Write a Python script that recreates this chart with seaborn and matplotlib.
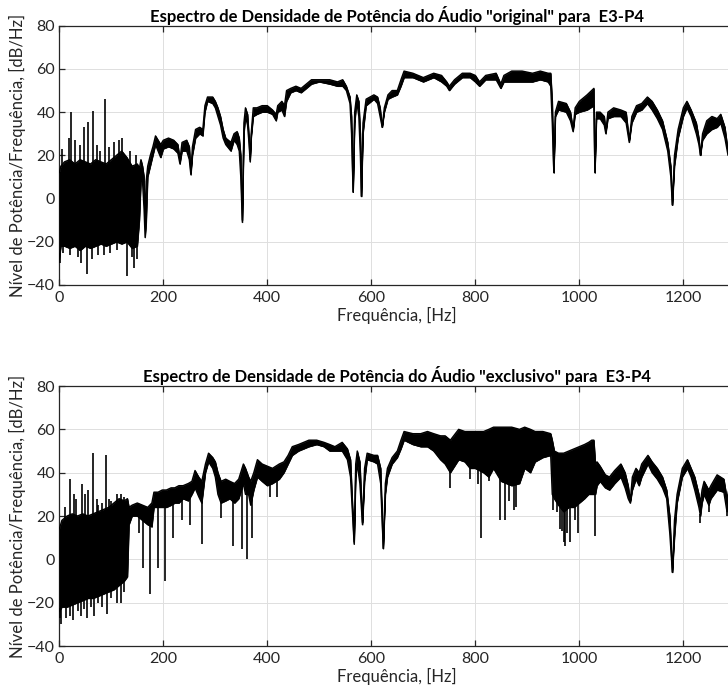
import matplotlib
matplotlib.use("Agg")
import matplotlib.pyplot as plt
import numpy as np
import pandas as pd
import seaborn as sns

# ---- "original" audio: PSD trace envelope (upper / lower edge), dB/Hz ----
freq_orig = [0, 3, 10, 20, 30, 40, 50, 60, 70, 80,
             90, 100, 110, 120, 130, 140, 150, 154, 157, 160,
             163, 165, 167, 170, 175, 180, 185, 190, 195, 200,
             210, 220, 228, 232, 236, 245, 250, 253, 256, 262,
             270, 276, 280, 285, 295, 300, 305, 310, 315, 320,
             330, 336, 342, 346, 349, 352, 355, 358, 362, 365,
             367, 369, 373, 380, 390, 400, 410, 417, 420, 428,
             433, 437, 445, 455, 465, 475, 485, 500, 520, 535,
             545, 552, 559, 562, 565, 568, 572, 576, 579, 581,
             584, 590, 605, 612, 617, 621, 625, 632, 640, 650,
             657, 663, 680, 700, 720, 735, 745, 750, 760, 775,
             790, 800, 808, 820, 840, 849, 855, 870, 890, 910,
             925, 940, 945, 948, 951, 954, 960, 975, 983, 988,
             992, 1000, 1015, 1028, 1030, 1033, 1040, 1048, 1051, 1055,
             1066, 1080, 1090, 1096, 1101, 1110, 1120, 1131, 1140, 1150,
             1160, 1170, 1176, 1179, 1183, 1190, 1200, 1207, 1215, 1225,
             1230, 1233, 1237, 1245, 1255, 1265, 1272, 1280, 1286, 1292,
             1300]
upper_orig = [12, 15, 17, 18, 16, 18, 17, 16, 18, 17,
              16, 18, 20, 22, 19, 15, 16, 14, 18, 15,
              10, -12, 8, 15, 20, 24, 29, 27, 25, 27,
              28, 27, 25, 18, 26, 27, 24, 12, 24, 32,
              33, 32, 43, 47, 47, 45, 42, 38, 32, 28,
              26, 30, 31, 28, 20, -10, 35, 42, 39, 28,
              18, 30, 42, 42, 43, 43, 41, 39, 43, 45,
              43, 50, 51, 52, 51, 53, 55, 55, 55, 54,
              55, 52, 47, 38, 3, 40, 48, 45, 30, 1,
              35, 46, 48, 47, 42, 33, 42, 48, 50, 50,
              55, 59, 58, 56, 58, 57, 54, 52, 55, 58,
              58, 57, 54, 57, 58, 53, 57, 59, 59, 58,
              59, 58, 58, 45, 12, 40, 45, 44, 40, 32,
              42, 45, 48, 51, 12, 40, 40, 38, 31, 40,
              42, 41, 40, 27, 38, 43, 44, 47, 45, 41,
              36, 26, 15, -3, 20, 32, 42, 45, 41, 35,
              28, 20, 30, 36, 38, 37, 39, 33, 22, 30,
              28]
lower_orig = [-28, -22, -22, -23, -22, -24, -22, -23, -22, -21,
              -22, -21, -20, -21, -20, -23, -22, -10, 8, 8,
              -5, -18, -12, 10, 15, 20, 25, 22, 19, 23,
              24, 23, 21, 16, 22, 22, 18, 11, 20, 28,
              30, 29, 40, 45, 44, 42, 38, 34, 28, 25,
              22, 27, 25, 22, 10, -11, 30, 38, 34, 25,
              17, 28, 38, 39, 40, 40, 39, 36, 40, 41,
              38, 45, 49, 50, 49, 51, 53, 54, 53, 52,
              52, 50, 44, 30, 3, 35, 45, 38, 20, 1,
              30, 43, 46, 44, 38, 33, 40, 46, 47, 48,
              52, 56, 56, 54, 56, 54, 52, 50, 53, 56,
              56, 54, 52, 55, 55, 51, 54, 54, 54, 54,
              55, 54, 52, 35, 12, 38, 41, 40, 36, 31,
              39, 40, 41, 43, 12, 37, 37, 34, 30, 37,
              38, 38, 35, 26, 35, 40, 41, 44, 41, 37,
              32, 22, 10, -3, 15, 28, 38, 42, 38, 30,
              25, 20, 27, 30, 32, 33, 35, 28, 20, 26,
              24]
# isolated narrow peaks / notches sticking out of the trace
peak_f_orig = [5, 19, 22.5, 30, 40, 47.5, 56, 65, 72, 78, 88.7, 95, 105, 115, 120, 135, 147]
peak_v_orig = [23, 28, 40, 27, 25, 33, 35.6, 40.7, 25, 22, 46, 24, 26, 27, 28, 22, 20]
notch_f_orig = [1, 8, 20, 35, 42, 54, 62, 75, 85, 98, 110, 130, 140, 144, 150]
notch_v_orig = [-30, -25, -26, -27, -30, -35, -28, -26, -26, -25, -24, -36, -27, -32, -28]

# ---- "exclusivo" audio ----
freq_excl = [0, 5, 15, 25, 35, 45, 55, 65, 75, 85,
             95, 105, 115, 125, 131, 134, 140, 150, 160, 170,
             178, 182, 190, 198, 206, 215, 222, 230, 238, 248,
             255, 261, 268, 274, 281, 287, 295, 300, 305, 311,
             320, 328, 337, 345, 354, 358, 364, 368, 374, 381,
             390, 400, 410, 423, 432, 440, 448, 460, 480, 495,
             509, 520, 530, 544, 554, 560, 567, 570, 573, 578,
             583, 587, 592, 605, 612, 618, 623, 627, 631, 640,
             650, 657, 663, 680, 695, 708, 720, 733, 742, 752,
             768, 780, 790, 800, 816, 826, 835, 850, 870, 885,
             895, 906, 915, 930, 945, 948, 952, 960, 970, 980,
             990, 1000, 1010, 1018, 1024, 1028, 1031, 1034, 1040, 1050,
             1058, 1068, 1080, 1088, 1094, 1098, 1102, 1109, 1115, 1120,
             1132, 1140, 1150, 1160, 1168, 1174, 1179, 1183, 1188, 1198,
             1208, 1215, 1222, 1230, 1233, 1236, 1240, 1249, 1253, 1265,
             1278, 1284, 1290, 1300]
upper_excl = [14, 18, 20, 21, 20, 21, 20, 21, 22, 23,
              24, 26, 28, 27, 28, 24, 25, 26, 25, 24,
              26, 31, 31, 32, 32, 33, 33, 34, 34, 35,
              36, 41, 38, 36, 44, 49, 47, 45, 40, 36,
              37, 36, 35, 37, 44, 42, 38, 36, 40, 46,
              44, 43, 42, 44, 45, 48, 52, 53, 55, 55,
              54, 53, 52, 54, 51, 46, 8, 44, 50, 45,
              17, 42, 49, 48, 48, 42, 5, 35, 42, 47,
              50, 55, 59, 58, 58, 59, 58, 57, 57, 55,
              60, 59, 59, 59, 59, 60, 61, 61, 61, 60,
              61, 60, 59, 59, 58, 55, 50, 49, 49, 50,
              51, 52, 53, 54, 55, 55, 44, 45, 43, 39,
              38, 41, 44, 40, 34, 27, 38, 42, 40, 44,
              48, 45, 42, 38, 32, 20, -6, 18, 30, 42,
              46, 42, 38, 30, 26, 32, 36, 32, 34, 39,
              37, 28, 35, 33]
lower_excl = [-24, -22, -22, -21, -20, -19, -18, -18, -17, -16,
              -15, -14, -12, -10, -8, 16, 20, 20, 18, 16,
              15, 24, 24, 24, 24, 25, 26, 26, 28, 27,
              30, 33, 29, 26, 40, 45, 42, 38, 30, 26,
              27, 28, 26, 28, 35, 30, 30, 25, 32, 38,
              36, 34, 35, 37, 40, 44, 48, 50, 52, 53,
              52, 50, 50, 50, 46, 38, 7, 38, 44, 35,
              16, 36, 46, 45, 44, 35, 5, 30, 38, 44,
              47, 51, 55, 53, 52, 52, 50, 46, 44, 40,
              46, 45, 42, 42, 40, 38, 42, 36, 34, 35,
              42, 40, 45, 47, 48, 30, 28, 25, 22, 24,
              24, 26, 28, 30, 30, 30, 30, 34, 36, 33,
              32, 35, 38, 33, 28, 26, 32, 37, 34, 38,
              44, 40, 37, 33, 28, 12, -6, 10, 26, 38,
              42, 38, 32, 24, 20, 26, 30, 25, 28, 32,
              31, 22, 30, 28]
peak_f_excl = [10, 20.6, 28, 32, 44, 50, 56, 64, 72, 75, 82, 89, 95, 100, 110, 118, 125]
peak_v_excl = [24, 37.3, 30, 28, 35, 30, 32, 49, 28, 25, 26, 48, 28, 27, 30, 30, 29]
notch_f_excl = [1, 4, 12, 20, 27, 35, 42, 48, 54, 60, 67, 75, 82, 91, 100, 110, 118, 125,
                153, 160, 174, 189, 203, 219, 235, 252, 274, 311, 334, 352, 361, 371,
                406, 419, 752, 790, 806, 811, 826, 848, 858, 864, 874, 878,
                949, 958, 962, 967, 971, 973, 976, 983, 992, 997, 1031, 1233, 1249, 1284]
notch_v_excl = [-27, -30, -27, -26, -28, -24, -26, -23, -27, -22, -26, -20, -22, -25, -18, -20, -20, -15,
                12, -4, -16, -4, -10, 10, 18, 16, 7, 19, 6, 5, 0, 10,
                29, 29, 33, 37, 35, 10, 36, 18, 18, 27, 23, 24,
                23, 22, 14, 13, 8, 6, 12, 8, 18, 12, 11, 17, 22, 20]

TITLES = ['Espectro de Densidade de Potência do Áudio "original" para  E3-P4',
          'Espectro de Densidade de Potência do Áudio "exclusivo" para  E3-P4']
XLABEL = "Frequência, [Hz]"
YLABEL = "Nível de Potência/Frequência, [dB/Hz]"
XTICKS = [0, 200, 400, 600, 800, 1000, 1200]
YTICKS = [-40, -20, 0, 20, 40, 60, 80]

sns.set_theme(style="white")
plt.rcParams["font.family"] = ["Lato", "DejaVu Sans"]
plt.rcParams["axes.edgecolor"] = "#262626"
plt.rcParams["axes.linewidth"] = 0.9
plt.rcParams["xtick.color"] = "#262626"
plt.rcParams["ytick.color"] = "#262626"

W, H = 728, 692
fig = plt.figure(figsize=(W / 100, H / 100), dpi=100)
ax_top = fig.add_axes([59.3 / W, (H - 285) / H, 676 / W, 259.3 / H])
ax_bot = fig.add_axes([59.3 / W, (H - 646) / H, 676 / W, 260 / H])

panels = [
    (ax_top, freq_orig, upper_orig, lower_orig,
     peak_f_orig, peak_v_orig, notch_f_orig, notch_v_orig, TITLES[0]),
    (ax_bot, freq_excl, upper_excl, lower_excl,
     peak_f_excl, peak_v_excl, notch_f_excl, notch_v_excl, TITLES[1]),
]

for ax, f, hi, lo, pf, pv, nf, nv, title in panels:
    df = pd.DataFrame({"f": f, "hi": hi, "lo": lo})
    ax.fill_between(df["f"], df["lo"], df["hi"], color="black", lw=0.5, zorder=3)
    sns.lineplot(data=df, x="f", y="hi", ax=ax, color="black", lw=1.0, zorder=3)
    sns.lineplot(data=df, x="f", y="lo", ax=ax, color="black", lw=1.0, zorder=3)
    # narrow spikes start inside the trace and run out to their extreme value
    ax.vlines(pf, np.interp(pf, f, hi) - 1, pv, color="black", lw=1.2, zorder=3)
    ax.vlines(nf, nv, np.interp(nf, f, lo) + 1, color="black", lw=1.2, zorder=3)

    ax.set_xlim(0, 1300)
    ax.set_ylim(-40, 80)
    ax.set_xticks(XTICKS)
    ax.set_yticks(YTICKS)
    ax.grid(True, color="#dedede", lw=0.7, zorder=0)
    ax.set_axisbelow(True)
    ax.tick_params(direction="in", length=4.5, width=0.9, labelsize=11.5,
                   top=True, right=True, bottom=True, left=True)
    ax.tick_params(axis="x", pad=4)
    ax.tick_params(axis="y", pad=3)
    for s in ax.spines.values():
        s.set_visible(True)
    ax.set_title(title, fontsize=12, fontweight="bold", pad=3, color="black")
    ax.set_xlabel(XLABEL, fontsize=12, labelpad=2, color="#262626")
    ax.set_ylabel(YLABEL, fontsize=12, color="#262626")
    ax.yaxis.set_label_coords(-0.049, 0.5)

fig.savefig("out.png", dpi=100)
